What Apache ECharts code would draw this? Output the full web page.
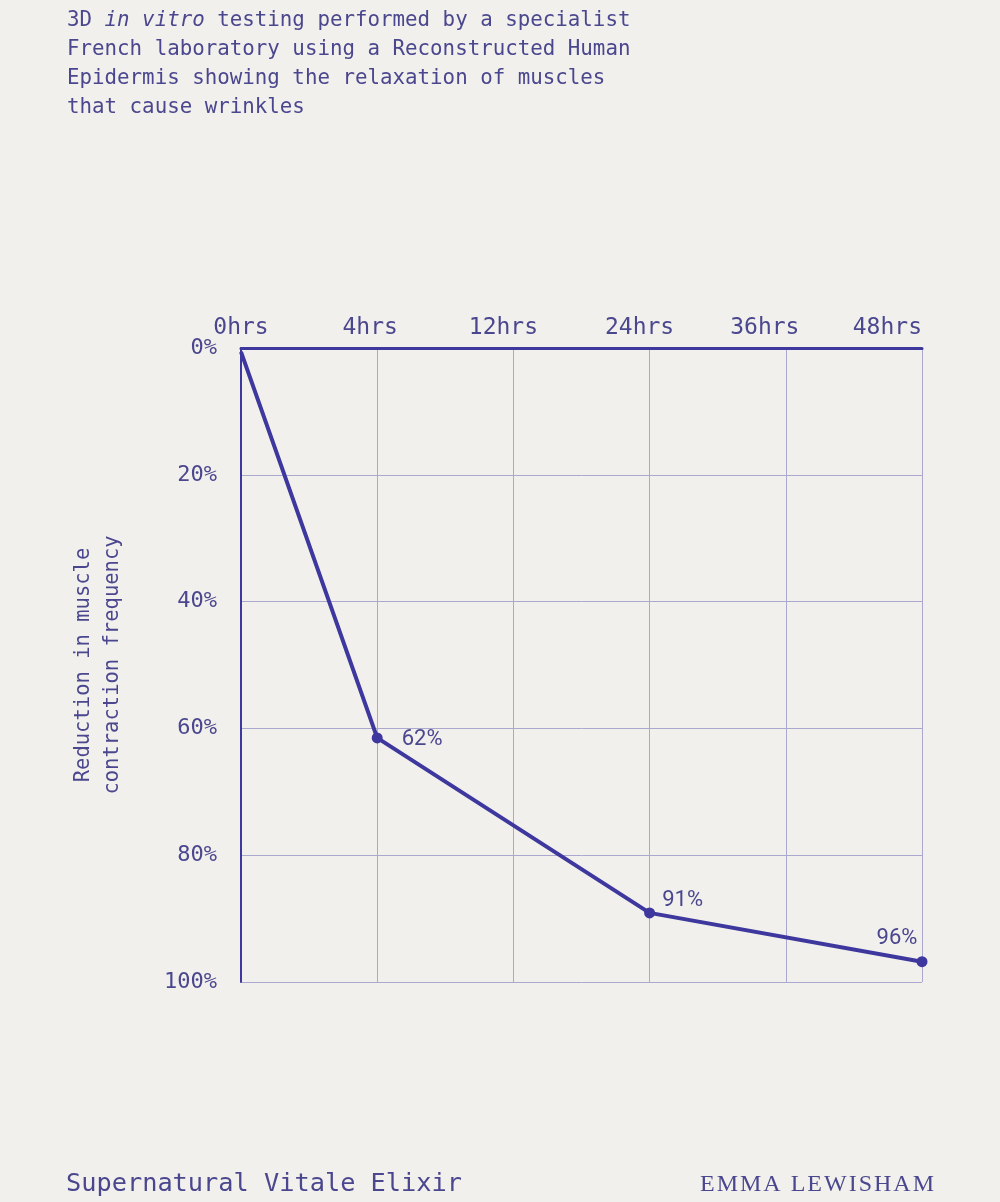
<!DOCTYPE html>
<html>
<head>
<meta charset="utf-8">
<script src="https://cdn.jsdelivr.net/npm/echarts@6/dist/echarts.min.js"></script>
<style>
html,body{margin:0;padding:0;background:#f1f0ec;}
#chart{width:1000px;height:1202px;}
</style>
</head>
<body>
<div id="chart"></div>
<script>
const categories = ['0hrs', '4hrs', '12hrs', '24hrs', '36hrs', '48hrs'];
const reductionValues = [0.6, 61.5, null, 89.1, null, 96.8];
const pointLabels = ['', '62%', '', '91%', '', '96%'];
const yTicks = [0, 20, 40, 60, 80, 100];
const yAxisName = 'Reduction in muscle\ncontraction frequency';
const footerLeft = 'Supernatural Vitale Elixir';
const footerRight = 'EMMA LEWISHAM';

const INK = '#3d379e';
const TEXT = '#4b478f';
const GRID = '#aaa8cf';
const MONO = '"DejaVu Sans Mono", "Liberation Mono", monospace';

const labelPlacement = {
  '62%': { position: 'right', offset: [14, 2] },
  '91%': { position: 'top', offset: [33, 9] },
  '96%': { position: 'top', offset: [-25, -2] }
};
// horizontal nudges of the top tick labels (px, negative = left)
const xLabelShift = [0, -7, -10, -10, -21, 0];

const seriesData = reductionValues.map((v, i) => {
  const item = { value: v };
  if (i === 0) {
    item.symbol = 'none';
  }
  if (pointLabels[i]) {
    const p = labelPlacement[pointLabels[i]];
    item.label = { show: true, formatter: pointLabels[i], position: p.position, offset: p.offset };
  }
  return item;
});

const xRich = {};
xLabelShift.forEach((s, i) => {
  xRich['s' + i] = { color: TEXT, fontFamily: MONO, fontSize: 23, padding: [0, Math.max(0, -2 * s), 0, Math.max(0, 2 * s)] };
});

const chart = echarts.init(document.getElementById('chart'));
chart.setOption({
  backgroundColor: '#f1f0ec',
  animation: false,
  grid: { left: 241, top: 348, width: 681, height: 634 },
  xAxis: {
    type: 'category',
    position: 'top',
    data: categories,
    boundaryGap: false,
    axisLine: { lineStyle: { color: INK, width: 3 } },
    axisTick: { show: false },
    axisLabel: {
      interval: 0,
      hideOverlap: false,
      color: TEXT, fontFamily: MONO, fontSize: 23, margin: 8, alignMaxLabel: 'right',
      formatter: (val, idx) => '{s' + idx + '|' + val + '}',
      rich: xRich
    },
    splitLine: { show: true, interval: 0, lineStyle: { color: GRID, width: 1 } }
  },
  yAxis: {
    type: 'value',
    inverse: true,
    min: yTicks[0],
    max: yTicks[yTicks.length - 1],
    interval: 20,
    axisLine: { show: true, lineStyle: { color: INK, width: 2 } },
    axisTick: { show: false },
    axisLabel: { color: TEXT, fontFamily: MONO, fontSize: 22, margin: 24, formatter: '{value}%' },
    splitLine: { show: true, lineStyle: { color: GRID, width: 1 } },
    name: yAxisName,
    nameLocation: 'middle',
    nameRotate: 90,
    nameGap: 114,
    nameTextStyle: { color: TEXT, fontFamily: MONO, fontSize: 20.5, lineHeight: 29 }
  },
  series: [{
    type: 'line',
    data: seriesData,
    connectNulls: true,
    symbol: 'circle',
    symbolSize: 11,
    lineStyle: { color: INK, width: 4 },
    itemStyle: { color: INK },
    label: { color: TEXT, fontFamily: 'Roboto, "Noto Sans", sans-serif', fontSize: 22 },
    z: 5
  }],
  graphic: [
    {
      type: 'text', left: 67, top: 6,
      style: {
        text: '3D {i|in vitro} testing performed by a specialist\nFrench laboratory using a Reconstructed Human\nEpidermis showing the relaxation of muscles\nthat cause wrinkles',
        fill: TEXT, font: '20.8px ' + MONO, lineHeight: 29,
        rich: { i: { fontStyle: 'italic', fontFamily: MONO, fontSize: 20.8, fill: TEXT, lineHeight: 29 } }
      }
    },
    {
      type: 'text', left: 66, top: 1172,
      style: { text: footerLeft, fill: TEXT, font: '25.3px ' + MONO }
    },
    {
      type: 'text', right: 66, top: 1173,
      style: { text: footerRight.split('').join('\u200A'), fill: TEXT, font: '24px "Liberation Serif", "DejaVu Serif", serif' }
    }
  ]
});
</script>
</body>
</html>
